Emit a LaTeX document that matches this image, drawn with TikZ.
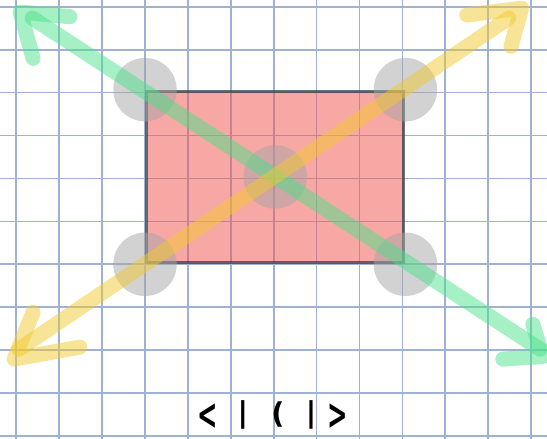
\documentclass[tikz,border=0pt]{standalone}
\usepackage{graphicx}
\usepackage{fontspec}
\newfontfamily\handfont{DejaVu Sans}
\usetikzlibrary{positioning}

\definecolor{gridblue}{RGB}{160,178,212}
\definecolor{boxred}{RGB}{239,81,75}
\definecolor{edgegray}{RGB}{55,65,75}
\definecolor{dotgray}{RGB}{165,165,165}
\definecolor{mint}{RGB}{75,225,137}
\definecolor{sun}{RGB}{241,201,45}

\begin{document}
\begin{tikzpicture}[
    gridline/.style={
        draw=gridblue,
        line width=1.1pt
    },
    box/.style={
        rectangle,
        fill=boxred,
        fill opacity=0.5,
        draw=edgegray,
        draw opacity=0.75,
        line width=2pt,
        minimum width=6cm,
        minimum height=4cm,
        inner sep=0pt
    },
    handle/.style={
        circle,
        fill=dotgray,
        fill opacity=0.5,
        minimum size=1.48cm,
        inner sep=0pt
    },
    stroke/.style={
        line width=0.35cm,
        line cap=round,
        line join=round,
        draw opacity=0.5
    },
    glyph/.style={
        font=\handfont\bfseries\fontsize{19}{22}\selectfont,
        inner sep=0pt
    }
]
\useasboundingbox (-3.38,-4.05) rectangle (9.37,6.16);
\clip (-3.38,-4.05) rectangle (9.37,6.16);

% ---------------- GRID ----------------
\draw[gridline] (-4,-5) grid (10,7);

% ---------------- RECTANGLE ----------------
\node[box, anchor=south west] (rect) at (0,0) {};

% ---------------- HANDLES ----------------
\foreach \corner [count=\i] in {north west, north east, south west, south east, center}
    \node[handle] (h\i) at (rect.\corner) {};

% ---------------- GREEN DIAGONAL ----------------
\coordinate (gA) at (-2.63,5.74);
\coordinate (gB) at (9.21,-1.98);
\coordinate (gTipA) at (-2.91,5.88);
\coordinate (gTipB) at (9.27,-2.15);
\draw[stroke, mint] (gA) -- (gB);
\draw[stroke, mint] (gTipA) ++(1.16,-0.11) -- (gTipA) -- ++(0.30,-1.08);
\draw[stroke, mint] (gTipB) ++(-0.23,0.75) -- (gTipB) -- ++(-0.93,-0.06);

% ---------------- YELLOW DIAGONAL ----------------
\coordinate (yA) at (-2.94,-1.98);
\coordinate (yB) at (8.48,5.74);
\coordinate (yTipA) at (-3.05,-2.21);
\coordinate (yTipB) at (8.78,5.97);
\draw[stroke, sun] (yA) -- (yB);
\draw[stroke, sun] (yTipA) ++(0.44,1.09) -- (yTipA) -- ++(1.53,0.28);
\draw[stroke, sun] (yTipB) ++(-1.28,-0.16) -- (yTipB) -- ++(-0.25,-0.89);

% ---------------- GLYPHS ----------------
\node[glyph] (lt) at (1.45,-3.55) {\scalebox{0.85}[1.5]{<}};
\node[glyph] (bar1) at (2.28,-3.50) {|};
\node[glyph] (paren) at (3.10,-3.50) {(};
\node[glyph] (bar2) at (3.87,-3.50) {|};
\node[glyph] (gt) at (4.48,-3.55) {\scalebox{0.85}[1.5]{>}};

\end{tikzpicture}
\end{document}
